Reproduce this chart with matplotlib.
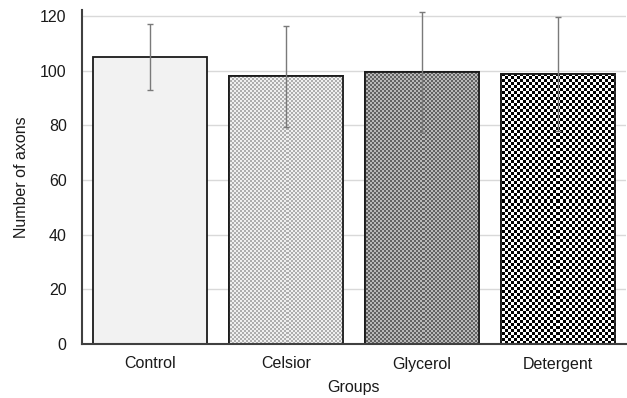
import numpy as np
import matplotlib
matplotlib.use("Agg")
import matplotlib.pyplot as plt
from matplotlib.colors import ListedColormap

groups = ["Control", "Celsior", "Glycerol", "Detergent"]
means = [105, 98, 99.5, 98.8]
errors = [12, 18.5, 22, 20.7]

# texture per bar: (light colour, dark colour, cell size in px) or None for plain fill
textures = [None, ("#f0f0f0", "#aeaeae", 2), ("#b8b8b8", "#626262", 2), ("#ffffff", "#000000", 3)]

plt.rcParams["font.family"] = ["Liberation Sans", "DejaVu Sans"]

W, H, DPI = 627, 398, 100
fig = plt.figure(figsize=(W / DPI, H / DPI), dpi=DPI)
left, right, bottom, top = 82 / W, 626 / W, 1 - 344 / H, 1 - 10 / H
ax = fig.add_axes([left, bottom, right - left, top - bottom])

x = np.arange(len(groups))
bars = ax.bar(x, means, width=0.84, color="#f2f2f2", edgecolor="#1a1a1a",
              linewidth=1.3, zorder=2)

# checker textures drawn per pixel of the axes, clipped to each bar
ax_w = 626 - 82
ax_h = 344 - 10
ii, jj = np.mgrid[0:ax_h, 0:ax_w]
xlim = (-0.5, len(groups) - 0.5)
ylim = (0, 120 * ax_h / (344 - 16))
for bar, tex in zip(bars, textures):
    if tex is None:
        continue
    light, dark, cell = tex
    board = ((ii // cell) + (jj // cell)) % 2
    im = ax.imshow(board, cmap=ListedColormap([light, dark]), interpolation="none",
                   extent=(xlim[0], xlim[1], ylim[0], ylim[1]), aspect="auto",
                   origin="lower", zorder=2.1)
    im.set_clip_path(bar)
    # redraw outline above the texture
    ax.bar(bar.get_x() + bar.get_width() / 2, bar.get_height(), width=bar.get_width(),
           fill=False, edgecolor="#1a1a1a", linewidth=1.3, zorder=2.2)

ax.errorbar(x, means, yerr=errors, fmt="none", ecolor="#7a7a7a", elinewidth=1.0,
            capsize=2.3, capthick=1.0, zorder=3, clip_on=False)

ax.set_xlim(*xlim)
ax.set_ylim(*ylim)
ax.set_yticks(np.arange(0, 121, 20))
ax.set_xticks(x)
ax.set_xticklabels(groups)
ax.yaxis.grid(True, color="#d9d9d9", linewidth=1.0, zorder=0)
ax.set_axisbelow(True)
ax.tick_params(length=0, labelsize=11.5, colors="#1a1a1a")
ax.tick_params(axis="y", pad=11)
ax.tick_params(axis="x", pad=9)

for s in ["top", "right"]:
    ax.spines[s].set_visible(False)
for s in ["left", "bottom"]:
    ax.spines[s].set_color("#404040")
    ax.spines[s].set_linewidth(1.5)

ax.set_xlabel("Groups", fontsize=11.5, color="#1a1a1a", labelpad=6)
ax.set_ylabel("Number of axons", fontsize=11.5, color="#1a1a1a", labelpad=8)

fig.savefig("out.png", dpi=DPI)
